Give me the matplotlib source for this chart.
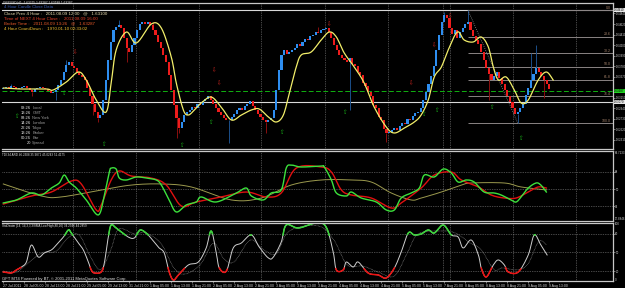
import numpy as np
import matplotlib.pyplot as plt

plt.rcParams['font.family'] = ['Liberation Sans', 'DejaVu Sans']

# ---- price data (GBPUSD H1), pips above 1.6200, one close per bar ----
first_open = 133
close_pips = [135, 137, 135, 139, 137, 133, 135, 137, 139, 135, 131, 127, 133, 135, 137, 135,
              133, 129, 125, 127, 131,
              141, 151, 167, 181, 187,
              179, 175, 167,
              161, 157, 151,
              135, 119, 103, 87, 75,
              81,
              111, 151, 191, 227, 251,
              257, 261, 255,
              235, 215, 207, 221,
              235, 251, 263, 267,
              263, 267, 261, 251,
              241, 227, 215, 201, 187,
              161, 131, 101, 75, 55,
              67, 81, 87,
              91, 97, 95, 103, 101, 109, 113, 119,
              111, 103, 95, 87, 81, 75, 71,
              71, 77, 83,
              91, 95, 91, 99, 103, 109, 99,
              91, 83, 77, 71,
              67, 71, 75, 91,
              131, 171, 201, 211,
              203, 207, 211,
              215, 223, 219, 227, 233, 231, 239, 241, 247, 245, 251,
              253, 255, 247,
              235, 221, 211, 201, 195, 191, 187,
              195, 183, 179,
              167, 161, 145, 139, 127, 119, 101, 95, 77, 71, 53, 45,
              47, 51, 55, 51,
              59, 65, 63, 73, 71, 79, 85, 87,
              95, 111, 127, 143, 159,
              179, 211, 241, 267,
              281, 275,
              255, 243, 251, 235,
              247, 255, 263, 267,
              251, 239, 231, 223,
              207, 191, 175, 163, 151,
              159, 167, 155,
              143, 131, 119, 107, 95, 83,
              87, 95, 103,
              121, 135, 151, 163, 175,
              167, 159, 151, 143, 133]

hi_bars = [3, 24, 44, 57, 120, 168, 177, 201, 203]
hi_pips = [143, 191, 271, 267, 257, 287, 291, 205, 221]
lo_bars = [11, 20, 34, 36, 47, 66, 67, 86, 100, 132, 146, 185, 196, 206]
lo_pips = [119, 111, 81, 67, 187, 35, 45, 25, 45, 91, 27, 111, 65, 115]

# yellow moving average
ma_bars = [0, 6.9, 16.4, 19, 24, 28.6, 31.6, 35.4, 39.2, 41.1, 43, 46.9, 50.7, 56.4, 60.2,
           64, 65.9, 68.6, 70.5, 72.8, 75.4, 79.2, 83, 86.9, 90.7, 94.5, 97.5, 101, 104, 106.7,
           109, 111.6, 113.5, 117.3, 121.1, 124.2, 126.9, 129.9, 133.7, 137.5, 141.3, 145.9, 149,
           152.8, 156.6, 159.2, 161.9, 164.2, 166.9, 169.5, 173, 175.6, 179, 182.1, 184.8, 186.7,
           188.6, 191.6, 194.7, 197.3, 200, 203.8, 206.9, 209.5]
ma_pips = [135, 133, 133, 131, 147, 167, 151, 111, 87, 145, 211, 247, 225, 263, 255,
           197, 145, 91, 81, 91, 105, 117, 97, 71, 81, 91, 93, 77, 67, 81,
           125, 177, 201, 207, 231, 247, 237, 205, 177, 145, 97, 57, 45,
           55, 67, 81, 111, 157, 177, 211, 247, 231, 227, 237, 217, 177,
           151, 157, 131, 105, 111, 151, 167, 151]

# fibonacci retracement and horizontal lines
fib_hi_bar, fib_hi = 177, 291
fib_lo_bar, fib_lo = 196, 65
fib_levels = [0.0, 23.6, 38.2, 50.0, 61.8, 76.4, 100.0]
hline_pips = [291, 107]
bid = 1.63287

# arrows
dn_bars = [27, 80, 82, 124, 155, 164, 170]
dn_pips = [207, 171, 145, 263, 145, 221, 279]
up_bars = [5, 23, 38, 68, 79, 106, 130, 160, 165, 186, 197]
up_pips = [77, 123, 23, 19, 65, 47, 85, 81, 89, 95, 33]

# ---- TDI ----
rsi_x = [0, 5, 10.7, 14.5, 18.3, 21.3, 23.2, 25.1, 27.8, 31.6, 36.2, 38.5, 40.4, 41.1, 43,
         44.2, 46.9, 50.7, 54.5, 58.3, 60.2, 63.2, 65.9, 69.7, 73.5, 75.4, 81.1, 88.8, 92.6, 94.5,
         99, 102.1, 105.9, 107.8, 109.7, 113.5, 121.1, 122.3, 125, 126.9, 130.7, 132.6, 136.4,
         142.1, 145.9, 149, 151.6, 155.4, 158.5, 160.4, 164.2, 167.6, 170.7, 173.3, 176.4, 179.4,
         183.2, 187, 189.7, 193.5, 195.4, 197.3, 200, 203, 204.8, 206.9]
rsi = [35.6, 38.7, 45.9, 43.8, 51.0, 56.2, 64.4, 57.2, 51.0, 38.7, 23.2, 43.8, 67.5, 71.6, 70.6,
       61.3, 59.3, 62.4, 61.3, 59.3, 54.1, 38.7, 26.3, 33.5, 36.6, 41.8, 36.6, 45.9, 51.0, 42.8,
       38.7, 45.9, 49.0, 71.6, 74.7, 72.7, 73.7, 72.7, 59.3, 45.9, 42.8, 46.9, 40.7,
       36.6, 28.4, 28.4, 40.7, 45.9, 51.0, 64.4, 62.4, 70.6, 66.5, 57.2, 59.3, 57.2,
       46.9, 45.9, 43.8, 38.7, 36.6, 41.8, 51.0, 56.2, 54.1, 46.9]
sig_x = [0, 10.7, 18.3, 25.9, 29.7, 35.4, 37.3, 41.1, 44.2, 48.8, 56.4, 62.1, 67.8, 73.5, 83,
         92.6, 100.2, 105.9, 111.6, 121.1, 125, 128.8, 132.6, 140.2, 147.8, 151.6, 159.2, 164.2,
         170.7, 174.5, 181, 185.9, 190.9, 195.4, 200, 203.8, 206.9]
sig = [34.5, 42.8, 46.9, 58.2, 55.2, 28.4, 33.5, 59.3, 68.6, 63.4, 61.3, 54.1, 32.5, 36.6, 41.8,
       46.9, 41.8, 45.9, 71.6, 72.7, 67.5, 49.0, 43.8, 40.7, 30.4, 35.6, 51.0, 64.4,
       67.5, 59.3, 52.1, 43.8, 40.7, 40.7, 46.9, 52.1, 51.0]
base_x = [0, 14.5, 22.1, 37.3, 48.8, 60.2, 71.6, 86.9, 98.3, 109.7, 121.1, 132.6, 140.2, 147.8,
          155.4, 159.2, 166.9, 174.5, 178.3, 190.9, 197.3, 206.9]
base = [55.2, 42.8, 41.8, 49.0, 54.1, 55.2, 52.1, 38.7, 40.7, 54.1, 59.3, 59.3, 57.2, 45.9,
        38.7, 40.7, 46.9, 54.1, 56.2, 56.2, 52.1, 49.0]

# ---- Stochastic ----
sto_x = [0, 3, 5, 6.9, 8.8, 10.7, 13.3, 15.6, 18.3, 20.2, 22.9, 24.8, 25.9, 28.6, 30.5, 32.4,
         33.5, 34.7, 37.3, 38.5, 40, 41.1, 43, 47.6, 49.9, 51.4, 52.6, 55.2, 59, 61.3, 63.2, 64.8,
         66.7, 70.5, 74.3, 77.3, 79.2, 81.1, 82.3, 85, 87.6, 90.7, 94.5, 97.5, 101, 102.9, 105.9,
         107.8, 112.4, 119.2, 123, 125.7, 126.9, 129.5, 130.7, 133.3, 135.2, 139, 142.9, 145.9,
         149, 151.6, 154.3, 156.6, 159.2, 161.9, 164.2, 167.6, 170.7, 173.3, 175.2, 178.3, 181,
         182.1, 184, 186.7, 188.6, 190.9, 192.4, 196.2, 200, 202.3, 204.8, 207.2]
sto = [18.4, 16.8, 21.7, 26.5, 34.6, 62.2, 42.7, 49.2, 54.1, 62.2, 75.1, 86.5, 81.6, 65.4, 54.1,
       34.6, 21.7, 16.8, 18.4, 33.0, 75.1, 94.6, 89.7, 75.1, 73.5, 83.2, 86.5, 78.4, 58.9, 49.2,
       18.4, 5.4, 13.5, 29.8, 34.6, 57.3, 84.9, 50.8, 24.9, 20.0, 57.3, 65.4, 78.4, 58.9, 41.1,
       42.7, 67.0, 94.6, 89.7, 97.8, 91.3, 50.8, 21.7, 21.7, 34.6, 26.5, 34.6, 16.8, 13.5, 8.7,
       24.9, 50.8, 81.6, 78.4, 80.0, 86.5, 81.6, 94.6, 78.4, 75.1, 57.3, 70.3, 46.0,
       24.9, 10.3, 29.8, 37.9, 29.8, 18.4, 18.4, 46.0, 78.4, 62.2, 46.0]
stsig_x = [0, 5, 10, 15, 20, 25, 29, 33, 37, 41, 44, 50, 54, 60, 65, 69, 75, 80, 84, 88, 94,
           99, 104, 109, 120, 126, 131, 137, 143, 149, 154, 158, 166, 172, 178, 182, 187, 190,
           196, 200, 204, 207]
stsig = [20, 18, 35, 50, 52, 75, 78, 45, 22, 55, 88, 80, 82, 65, 25, 15, 30, 65, 40, 35, 70,
         55, 48, 85, 93, 70, 30, 28, 18, 12, 50, 80, 85, 82, 65, 55, 22, 25,
         22, 32, 68, 62]

date_labels = ['27 Jul 2011', '28 Jul 05:00', '28 Jul 13:00', '28 Jul 21:00', '29 Jul 05:00',
               '29 Jul 13:00', '31 Jul 21:00', '1 Aug 05:00', '1 Aug 13:00', '1 Aug 21:00',
               '2 Aug 05:00', '2 Aug 13:00', '2 Aug 21:00', '3 Aug 05:00', '3 Aug 13:00',
               '3 Aug 21:00', '4 Aug 05:00', '4 Aug 13:00', '4 Aug 21:00', '5 Aug 05:00',
               '5 Aug 13:00', '7 Aug 21:00', '8 Aug 05:00', '8 Aug 13:00', '8 Aug 21:00',
               '9 Aug 05:00', '9 Aug 13:00']
clock_times = ['08:26', '13:26', '09:26', '14:26', '22:26', '13:26', '00:26', '20']
clock_names = ['Local', 'GMT', 'New York', 'London', 'Tokyo', 'Broker', 'Bar', 'Spread']


def px(p):
    return 1.62 + np.asarray(p, float) / 1e4


def smooth(xs, ys, n=8):
    # catmull-rom curve through the read points
    x = np.asarray(xs, float)
    y = np.asarray(ys, float)
    xp = np.r_[x[0], x, x[-1]]
    yp = np.r_[y[0], y, y[-1]]
    t = np.linspace(0, 1, n, endpoint=False)[:, None]
    ox, oy = [], []
    for i in range(1, len(x)):
        for arr, out in ((xp, ox), (yp, oy)):
            p0, p1, p2, p3 = arr[i - 1], arr[i], arr[i + 1], arr[i + 2]
            c = 0.5 * ((2 * p1) + (-p0 + p2) * t + (2 * p0 - 5 * p1 + 4 * p2 - p3) * t ** 2
                       + (-p0 + 3 * p1 - 3 * p2 + p3) * t ** 3)
            out.extend(c.ravel())
    ox.append(x[-1])
    oy.append(y[-1])
    return np.array(ox), np.array(oy)


W, H = 625, 288
fig = plt.figure(figsize=(W / 100, H / 100), dpi=100, facecolor='black')


def box(top, bottom):
    return [2 / W, 1 - bottom / H, 611 / W, (bottom - top) / H]


ax1 = fig.add_axes(box(3, 149))
ax2 = fig.add_axes(box(151, 221))
ax3 = fig.add_axes(box(223, 281))
grid_x = [26.7, 50.7, 74.7, 98.3, 122.7, 146.7, 167.6, 170.3, 194.3, 218.3]
XMAX = 232.3
LBL = 2.1

for ax in (ax1, ax2, ax3):
    ax.set_facecolor('black')
    ax.set_xlim(-0.5, XMAX)
    for s in ax.spines.values():
        s.set_color('#c8c8c8')
        s.set_linewidth(0.9)
    ax.spines['left'].set_visible(False)
    ax.yaxis.tick_right()
    ax.tick_params(axis='y', colors='#d0d0d0', labelsize=LBL, length=1.2, width=0.4, pad=0.5)
    ax.tick_params(axis='x', length=0)
    ax.set_xticks([])
    for g in grid_x:
        ax.axvline(g, color='#8c8c8c', lw=0.5, ls=(0, (1, 1.5)), zorder=0)

# ---- main chart ----
close = px(close_pips)
opens = np.r_[px(first_open), close[:-1]]
n = len(close)
bars = np.arange(n)
diff = close - opens
height = np.where(np.abs(diff) < 0.00006, np.where(diff >= 0, 0.00006, -0.00006), diff)
cols = np.where(diff >= 0, '#2e8ef0', '#ee1c1c')
ax1.bar(bars, height, bottom=opens, width=0.8, color=cols, linewidth=0, zorder=3)
top = np.maximum(opens, close)
bot = np.minimum(opens, close)
for b, p in zip(hi_bars, hi_pips):
    c = '#1b4f8a' if diff[b] >= 0 else '#8a0f0f'
    ax1.vlines(b, top[b], px(p), color=c, lw=0.7, zorder=2)
for b, p in zip(lo_bars, lo_pips):
    c = '#1b4f8a' if diff[b] >= 0 else '#8a0f0f'
    ax1.vlines(b, px(p), bot[b], color=c, lw=0.7, zorder=2)

mx, my = smooth(ma_bars, ma_pips)
ax1.plot(mx, px(my), color='#f2ee6a', lw=0.9, zorder=5)

# horizontal lines
for p in hline_pips:
    ax1.axhline(px(p), color='#d8d8d8', lw=0.8, zorder=1)
ax1.axhline(bid, color='#10b010', lw=0.7, ls=(0, (5, 2.5)), zorder=1)

# fibonacci
hi_p, lo_p = px(fib_hi), px(fib_lo)
for lv in fib_levels:
    y = hi_p - (hi_p - lo_p) * lv / 100
    ax1.hlines(y, fib_hi_bar, XMAX, color='#8a8484', lw=0.7, zorder=1)
    ax1.text(XMAX - 0.8, y + 0.00008, f'{lv:.1f}', color='#a5826a', fontsize=2.5,
             ha='right', va='bottom', zorder=6)
ax1.plot([fib_hi_bar, fib_lo_bar], [hi_p, lo_p], color='#909090', lw=0.6,
         ls=(0, (1, 1.5)), zorder=4)

for b, p in zip(dn_bars, dn_pips):
    ax1.text(b, px(p), '⇩', color='#c8241e', fontsize=4, ha='center', va='center', zorder=6)
for b, p in zip(up_bars, up_pips):
    ax1.text(b, px(p), '⇧', color='#18b018', fontsize=4, ha='center', va='center', zorder=6)

ax1.set_ylim(px(13), px(305))
yt = [31, 52, 73, 94, 115, 157, 178, 199, 220, 241, 262, 284]
ax1.set_yticks(px(yt))
ax1.set_yticklabels([f'{v:.5f}' for v in px(yt)])
tr = ax1.get_yaxis_transform()
for p, fc in ((291, '#e8e8e8'), (107, '#e8e8e8')):
    ax1.text(1.002, px(p), f'{px(p):.5f}', transform=tr, fontsize=LBL, color='black',
             va='center', ha='left', clip_on=False,
             bbox=dict(boxstyle='square,pad=0.12', fc=fc, ec='none'))
ax1.text(1.002, bid, f'{bid:.5f}', transform=tr, fontsize=LBL, color='black', va='center',
         ha='left', clip_on=False, bbox=dict(boxstyle='square,pad=0.12', fc='#22d022', ec='none'))

# ---- TDI ----
for lv in (68, 50, 32):
    ax2.axhline(lv, color='#8c8c8c', lw=0.5, ls=(0, (1, 1.5)), zorder=0)
bx, by = smooth(base_x, base)
ax2.plot(bx, by, color='#9c9a4e', lw=0.7)
sx, sy = smooth(sig_x, sig)
ax2.plot(sx, sy, color='#e01010', lw=1.0)
rx, ry = smooth(rsi_x, rsi)
ax2.plot(rx, ry, color='#3ce23c', lw=1.0)
ax2.set_ylim(17.0, 89.2)
ax2.set_yticks([32, 50, 68])
ax2.set_yticklabels(['32', '50', '68'])
tr2 = ax2.get_yaxis_transform()
ax2.text(1.003, 86.7, '86.7133', transform=tr2, fontsize=LBL, color='#d0d0d0', va='center')
ax2.text(1.003, 18.9, '17.8846', transform=tr2, fontsize=LBL, color='#d0d0d0', va='center')

# ---- Stochastic ----
for lv in (80, 50, 20):
    ax3.axhline(lv, color='#8c8c8c', lw=0.5, ls=(0, (1, 1.5)), zorder=0)
gx, gy = smooth(stsig_x, stsig)
ax3.plot(gx, gy, color='#8a8a8a', lw=0.5, ls=(0, (1, 1)))
kx, ky = smooth(sto_x, sto)
ax3.plot(kx, ky, color='#cfcfcf', lw=0.7)
ax3.plot(kx, np.where(ky >= 78, ky, np.nan), color='#38d838', lw=1.1)
ax3.plot(kx, np.where(ky <= 26, ky, np.nan), color='#f01010', lw=1.1)
ax3.set_ylim(3.8, 97.8)
ax3.set_yticks([20, 50, 80])
ax3.set_yticklabels(['20', '50', '80'])
tr3 = ax3.get_yaxis_transform()
ax3.text(1.003, 95.5, '100', transform=tr3, fontsize=LBL, color='#d0d0d0', va='center')
ax3.text(1.003, 5.5, '0', transform=tr3, fontsize=LBL, color='#d0d0d0', va='center')
ax3.set_xticks([k * 8 for k in range(len(date_labels))])
ax3.set_xticklabels(date_labels, ha='left')
ax3.tick_params(axis='x', colors='#d0d0d0', labelsize=2.5, length=1.5, width=0.4, pad=0.8)


# ---- texts ----
def ftext(x, y, s, **kw):
    fig.text(x / W, 1 - y / H, s, va='center', **kw)


ftext(3, 2.2, 'GBPUSD,H1  1.63275 1.63287 1.63188 1.63287', color='#e0e0e0', fontsize=2.3)
ftext(4, 6.5, '4 Hour Candle Close Data', color='#3a5fb8', fontsize=3.1)
ftext(4, 13.5, 'Close Prev 4 Hour :   2011.08.09 12:00   @   1.63100', color='#e8dcb0',
      fontsize=3.2)
ftext(4, 18.5, 'Time of NEXT 4 Hour Close :   2011.08.09 16:00', color='#e8402a', fontsize=3.2)
ftext(4, 23.5, 'Broker Time :   2011.08.09 13:26   @   1.63287', color='#e85a2a', fontsize=3.2)
ftext(4, 28.5, '4 Hour CountDown :   1970.01.10 02:33:02', color='#f0c030', fontsize=3.2)

for i, (t, nme) in enumerate(zip(clock_times, clock_names)):
    y = 108 + i * 5
    ftext(31, y, t, color='#e6e6e6', fontsize=2.9, ha='right')
    ftext(32.3, y, nme, color='#9a9a9a', fontsize=2.9)

ftext(2, 155, 'TDI 34 ARD 46.2308 35.9871 45.0243 51.4175', color='#e0e0e0', fontsize=2.2)
ftext(2, 226, 'StoDaaim (14, 14,3,3,3/SMA,Low/High,80,20) 34.2346 44.2859', color='#e0e0e0',
      fontsize=2.2)
ftext(2, 279, 'GFT MT4 Powered by BT, \u00a9 2001-2011 MetaQuotes Software Corp.',
      color='#e0e0e0', fontsize=3.0)

fig.savefig('out.png', dpi=100, facecolor='black')
